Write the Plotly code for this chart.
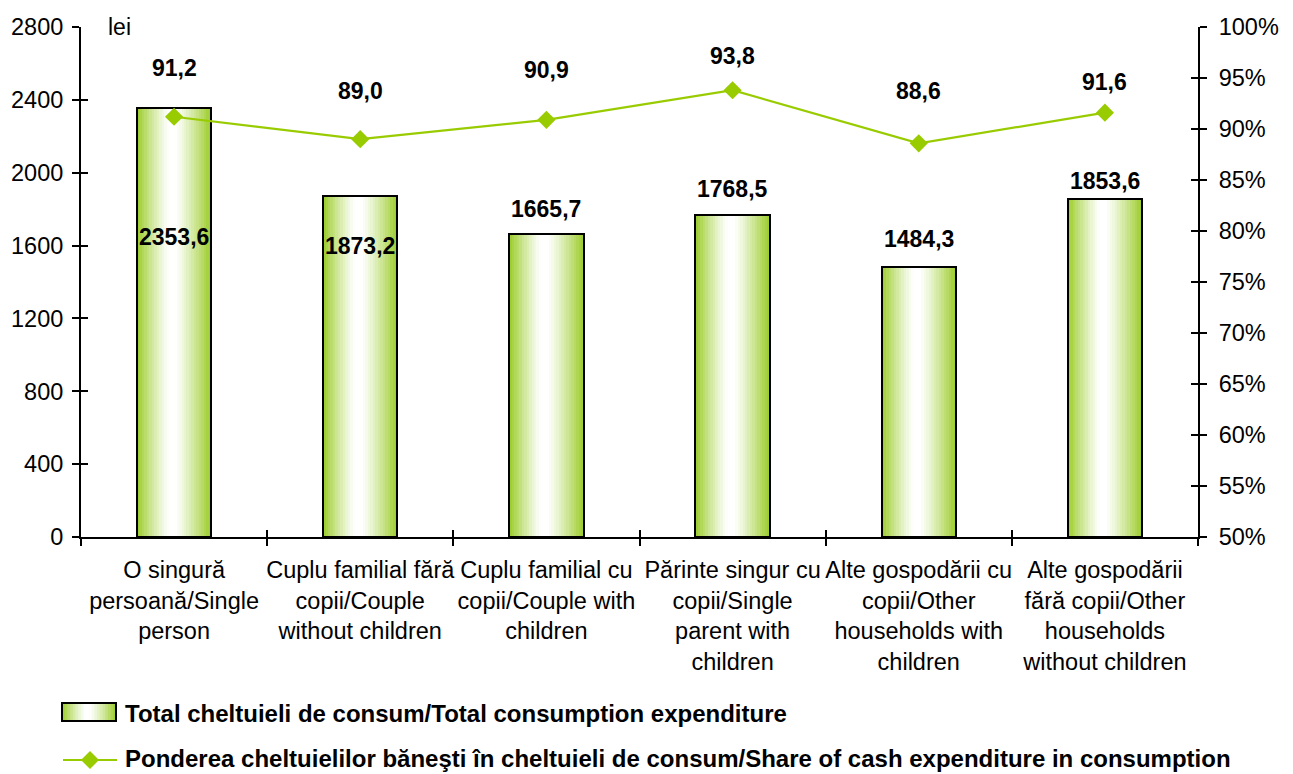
import plotly.graph_objects as go

categories = [
    "O singură<br>persoană/Single<br>person",
    "Cuplu familial fără<br>copii/Couple<br>without children",
    "Cuplu familial cu<br>copii/Couple with<br>children",
    "Părinte singur cu<br>copii/Single<br>parent with<br>children",
    "Alte gospodării cu<br>copii/Other<br>households with<br>children",
    "Alte gospodării<br>fără copii/Other<br>households<br>without children",
]
total_expenditure = [2353.6, 1873.2, 1665.7, 1768.5, 1484.3, 1853.6]
cash_share = [91.2, 89.0, 90.9, 93.8, 88.6, 91.6]

left_ticks = [0, 400, 800, 1200, 1600, 2000, 2400, 2800]
right_ticks = [50, 55, 60, 65, 70, 75, 80, 85, 90, 95, 100]

bar_series_name = "Total cheltuieli de consum/Total consumption expenditure"
line_series_name = ("Ponderea cheltuielilor băneşti în cheltuieli de consum/"
                    "Share of cash expenditure in consumption")

# label offsets in pixels (positive = upwards)
bar_label_shift = [-129, -50, 25, 26, 28, 18]
share_label_shift = [49, 48, 50, 34, 52, 31]

FONT = "Liberation Sans, Arial, sans-serif"
GREEN = (154, 204, 40)
LINE_GREEN = "#99CC00"
BAR_W = 0.4
N_STRIPS = 30

W, H = 1293, 774
ML, MR, MT, MB = 81, 95, 27, 237
PW, PH = W - ML - MR, H - MT - MB


def fmt(v):
    return f"{v:.1f}".replace(".", ",")


def grad_color(t):
    # horizontal green -> white -> green profile
    c = 0.47
    d = abs(t - c) / (c if t < c else 1 - c)
    d = min(max((d - 0.08) / 0.92, 0), 1)
    k = d ** 1.2
    r = round(255 + (GREEN[0] - 255) * k)
    g = round(255 + (GREEN[1] - 255) * k)
    b = round(255 + (GREEN[2] - 255) * k)
    return f"rgb({r},{g},{b})"


def px_x(px):
    return (px - ML) / PW


def px_y(py):
    return (H - MB - py) / PH


fig = go.Figure()

# gradient-filled bars built from narrow vertical strips
sw = BAR_W / N_STRIPS
for i in range(N_STRIPS):
    t = (i + 0.5) / N_STRIPS
    fig.add_trace(go.Bar(
        x=categories, y=total_expenditure,
        width=sw * (1.6 if i < N_STRIPS - 1 else 1.0),
        offset=-BAR_W / 2 + i * sw,
        marker=dict(color=grad_color(t), line=dict(width=0)),
        showlegend=False, hoverinfo="skip",
    ))

# bar outlines
fig.add_trace(go.Bar(
    x=categories, y=total_expenditure, width=BAR_W, offset=-BAR_W / 2,
    marker=dict(color="rgba(0,0,0,0)", line=dict(color="black", width=2)),
    name=bar_series_name, showlegend=False,
))

# share line on the secondary axis
fig.add_trace(go.Scatter(
    x=categories, y=cash_share, yaxis="y2", mode="lines+markers",
    line=dict(color=LINE_GREEN, width=2.2),
    marker=dict(symbol="diamond", size=14, color=LINE_GREEN),
    name=line_series_name, showlegend=False,
))

# empty traces carrying the inward half of the crossing tick marks
fig.add_trace(go.Scatter(x=[], y=[], xaxis="x2", yaxis="y3", showlegend=False))
fig.add_trace(go.Scatter(x=[], y=[], xaxis="x2", yaxis="y4", showlegend=False))

annotations = []
for c, v, s in zip(categories, total_expenditure, bar_label_shift):
    annotations.append(dict(
        x=c, y=v, xref="x", yref="y", text=f"<b>{fmt(v)}</b>", showarrow=False,
        yshift=s, font=dict(family=FONT, size=23, color="black"),
    ))
for c, v, s in zip(categories, cash_share, share_label_shift):
    annotations.append(dict(
        x=c, y=v, xref="x", yref="y2", text=f"<b>{fmt(v)}</b>", showarrow=False,
        yshift=s, font=dict(family=FONT, size=23, color="black"),
    ))
annotations.append(dict(
    x=px_x(106), y=px_y(27), xref="paper", yref="paper", text="lei",
    showarrow=False, xanchor="left", yanchor="middle",
    font=dict(family=FONT, size=23, color="black"),
))
# legend texts
annotations.append(dict(
    x=px_x(123), y=px_y(713), xref="paper", yref="paper",
    text=f"<b>{bar_series_name}</b>", showarrow=False,
    xanchor="left", yanchor="middle", font=dict(family=FONT, size=24, color="black"),
))
annotations.append(dict(
    x=px_x(123), y=px_y(758), xref="paper", yref="paper",
    text=f"<b>{line_series_name}</b>", showarrow=False,
    xanchor="left", yanchor="middle", font=dict(family=FONT, size=24, color="black"),
))

shapes = []
# legend swatch for the bars: gradient rectangle
sx0, sx1, sy0, sy1 = 62, 116, 703, 721
n = 20
for i in range(n):
    a = sx0 + (sx1 - sx0) * i / n
    b = sx0 + (sx1 - sx0) * (i + 1.3) / n if i < n - 1 else sx1
    shapes.append(dict(
        type="rect", xref="paper", yref="paper",
        x0=px_x(a), x1=px_x(b), y0=px_y(sy1), y1=px_y(sy0),
        fillcolor=grad_color((i + 0.5) / n), line=dict(width=0), layer="above",
    ))
shapes.append(dict(
    type="rect", xref="paper", yref="paper",
    x0=px_x(sx0), x1=px_x(sx1), y0=px_y(sy1), y1=px_y(sy0),
    fillcolor="rgba(0,0,0,0)", line=dict(color="black", width=2), layer="above",
))
# legend swatch for the line: segment with diamond
shapes.append(dict(
    type="line", xref="paper", yref="paper",
    x0=px_x(63), x1=px_x(117), y0=px_y(760), y1=px_y(760),
    line=dict(color=LINE_GREEN, width=2.2),
))
cx, cy, r = 90, 760, 9
shapes.append(dict(
    type="path", xref="paper", yref="paper",
    path=(f"M {px_x(cx - r)} {px_y(cy)} L {px_x(cx)} {px_y(cy - r)} "
          f"L {px_x(cx + r)} {px_y(cy)} L {px_x(cx)} {px_y(cy + r)} Z"),
    fillcolor=LINE_GREEN, line=dict(width=0),
))

ytickfont = dict(family=FONT, size=23.5, color="black")
xtickfont = dict(family=FONT, size=23.5, color="black")
boundaries = [i - 0.5 for i in range(len(categories) + 1)]

fig.update_layout(
    width=W, height=H,
    margin=dict(l=ML, r=MR, t=MT, b=MB, pad=0),
    paper_bgcolor="white", plot_bgcolor="white",
    barmode="overlay", bargap=0,
    showlegend=False,
    font=dict(family=FONT, size=23, color="black"),
    xaxis=dict(
        type="category", categoryorder="array", categoryarray=categories,
        range=[-0.5, len(categories) - 0.5],
        tickson="boundaries", ticks="outside", ticklen=7, tickwidth=2,
        tickcolor="black", showline=True, linecolor="black", linewidth=2,
        showgrid=False, zeroline=False, tickangle=0, tickfont=xtickfont,
        ticklabelstandoff=11, fixedrange=True,
    ),
    xaxis2=dict(
        overlaying="x", anchor="y", side="bottom", type="linear",
        range=[-0.5, len(categories) - 0.5], tickvals=boundaries,
        ticks="inside", ticklen=7, tickwidth=2, tickcolor="black",
        showticklabels=False, showline=False, showgrid=False, zeroline=False,
    ),
    yaxis=dict(
        range=[0, 2800], tickvals=left_ticks, ticks="outside", ticklen=7,
        tickwidth=2, tickcolor="black", showline=True, linecolor="black",
        linewidth=2, showgrid=False, zeroline=False, tickfont=ytickfont,
        ticklabelstandoff=4,
    ),
    yaxis2=dict(
        overlaying="y", side="right", range=[50, 100], tickvals=right_ticks,
        ticktext=[f"{v}%" for v in right_ticks], ticks="outside", ticklen=7,
        tickwidth=2, tickcolor="black", showline=True, linecolor="black",
        linewidth=2, showgrid=False, zeroline=False, tickfont=ytickfont,
        ticklabelstandoff=7,
    ),
    yaxis3=dict(
        overlaying="y", side="left", anchor="x", range=[0, 2800],
        tickvals=left_ticks, ticks="inside", ticklen=7, tickwidth=2,
        tickcolor="black", showticklabels=False, showline=False,
        showgrid=False, zeroline=False,
    ),
    yaxis4=dict(
        overlaying="y", side="right", anchor="x", range=[50, 100],
        tickvals=right_ticks, ticks="inside", ticklen=7, tickwidth=2,
        tickcolor="black", showticklabels=False, showline=False,
        showgrid=False, zeroline=False,
    ),
    annotations=annotations,
    shapes=shapes,
)

fig.write_html("out.html")
